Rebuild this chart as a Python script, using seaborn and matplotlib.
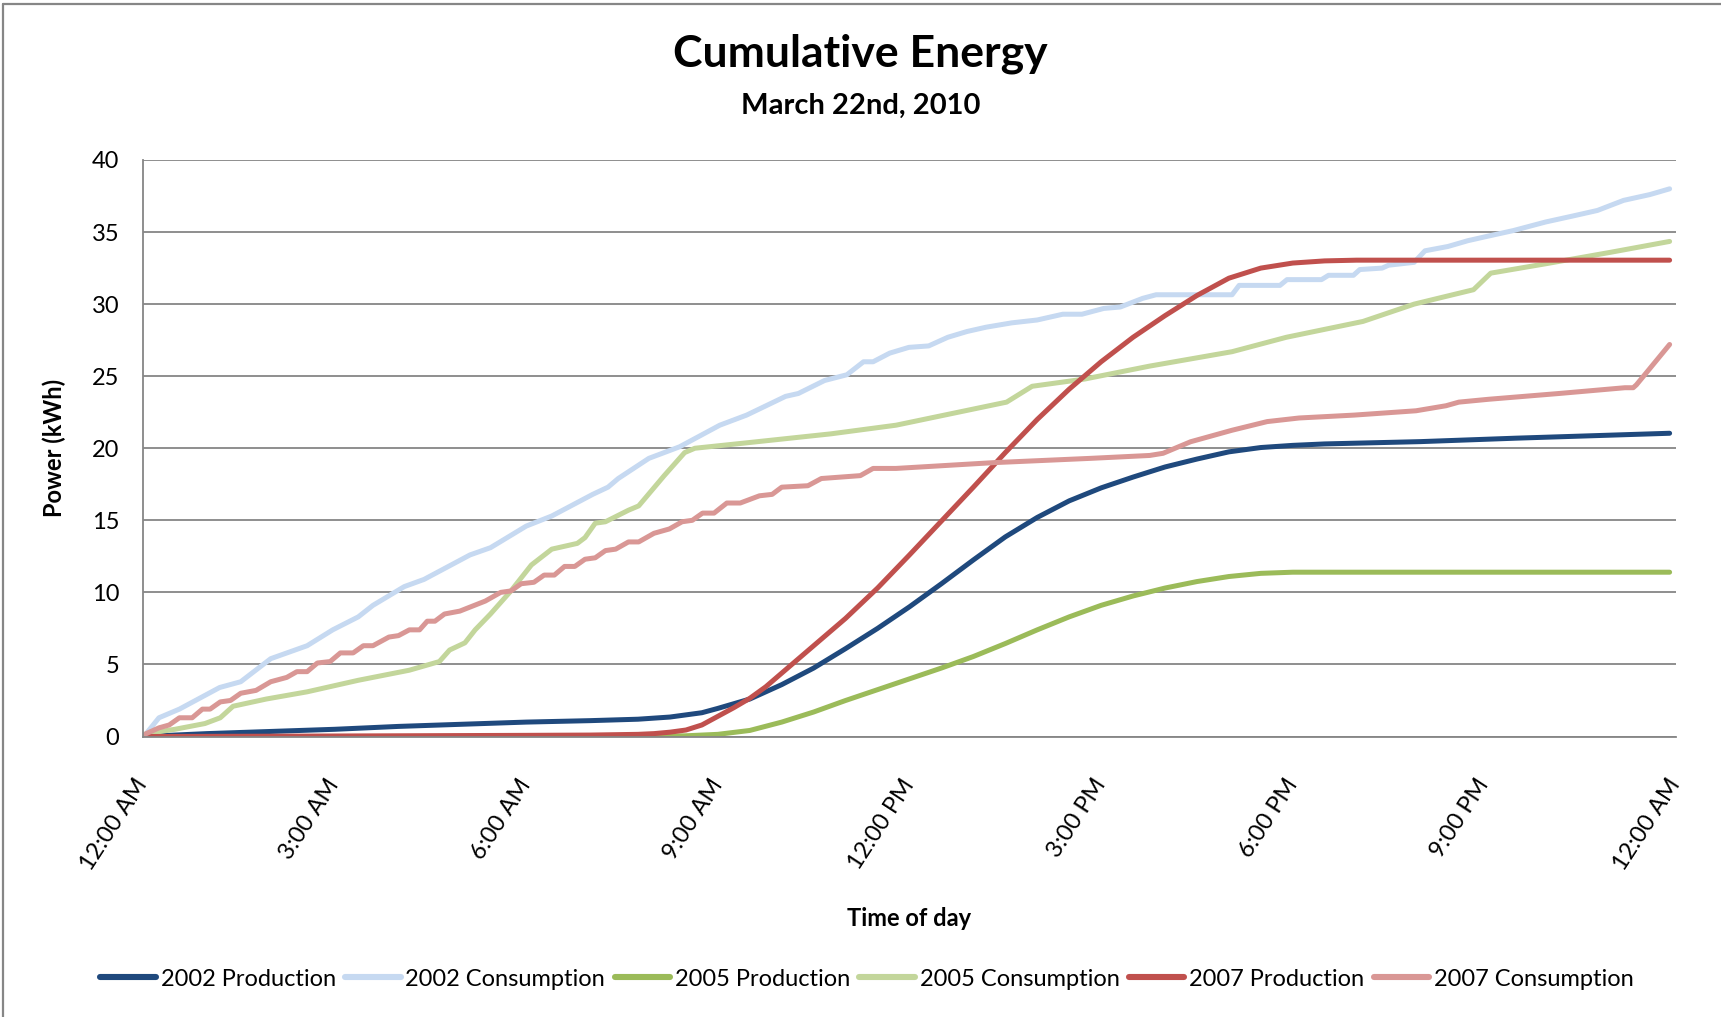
import numpy as np
import pandas as pd
import matplotlib
matplotlib.use("Agg")
import matplotlib.pyplot as plt
from matplotlib.lines import Line2D
import seaborn as sns

# ---- data: cumulative energy (kWh) against hour of day ----
series_names = ["2002 Production", "2002 Consumption", "2005 Production",
                "2005 Consumption", "2007 Production", "2007 Consumption"]
series_colors = ["#1F497D", "#C6D9F1", "#9BBB59", "#C3D69B", "#C0504D", "#D99795"]

prod_2002_h = [0, 1, 2, 3, 4, 5, 6, 7, 7.75, 8.25, 8.75, 9, 9.5, 10, 10.5, 11, 11.5,
               12, 12.5, 13, 13.5, 14, 14.5, 15, 15.5, 16, 16.5, 17, 17.5, 18,
               18.5, 20, 21.5, 23.9]
prod_2002_v = [0, 0.2, 0.35, 0.5, 0.7, 0.85, 1.0, 1.1, 1.2, 1.35, 1.65, 1.95, 2.6,
               3.6, 4.75, 6.1, 7.5, 9.0, 10.6, 12.25, 13.85, 15.2, 16.35, 17.25,
               18.0, 18.7, 19.25, 19.75, 20.05, 20.2, 20.3, 20.46, 20.7, 21.04]

cons_2002_h = [0, 0.05, 0.25, 0.57, 1.2, 1.53, 2.0, 2.57, 2.97, 3.37, 3.6, 4.09, 4.4,
               5.12, 5.44, 6.0, 6.4, 7.04, 7.28, 7.44, 7.92, 8.4, 9.03, 9.45, 10.06,
               10.26, 10.67, 11.02, 11.28, 11.43, 11.69, 11.99, 12.3, 12.6, 12.9,
               13.2, 13.6, 14.0, 14.4, 14.7, 15.04, 15.3, 15.65, 15.86,
               16.47, 17.05, 17.16, 17.8, 17.91, 18.45, 18.56, 18.95, 19.05, 19.4,
               19.5, 19.9, 20.07,
               20.43, 20.74, 21.04, 21.45, 21.96, 22.37, 22.77, 23.18, 23.59, 23.9]
cons_2002_v = [0, 0.2, 1.3, 1.9, 3.4, 3.8, 5.4, 6.3, 7.4, 8.3, 9.1, 10.4, 10.9,
               12.6, 13.1, 14.6, 15.3, 16.8, 17.3, 17.9, 19.3, 20.1, 21.6, 22.3, 23.6,
               23.8, 24.7, 25.1, 26.0, 26.0, 26.6, 27.0, 27.1, 27.7, 28.1,
               28.4, 28.7, 28.9, 29.3, 29.3, 29.7, 29.8, 30.4, 30.65,
               30.65, 30.65, 31.3, 31.3, 31.7, 31.7, 32.0, 32.0, 32.4, 32.5,
               32.7, 32.9, 33.7,
               34.0, 34.4, 34.7, 35.1, 35.7, 36.1, 36.5, 37.2, 37.6, 38.0]

prod_2005_h = [0, 6, 8, 8.5, 9.0, 9.5, 10, 10.5, 11, 11.5, 12, 12.5, 13, 13.5, 14,
               14.5, 15, 15.5, 16, 16.5, 17, 17.5, 18, 20, 22, 23.9]
prod_2005_v = [0, 0, 0.02, 0.05, 0.15, 0.42, 1.0, 1.7, 2.5, 3.25, 4.0, 4.75, 5.55,
               6.45, 7.4, 8.3, 9.1, 9.75, 10.3, 10.75, 11.1, 11.32, 11.4, 11.4,
               11.4, 11.4]

cons_2005_h = [0, 0.05, 0.5, 0.97, 1.21, 1.41, 1.93, 2.57, 3.37, 4.17, 4.64, 4.8,
               5.04, 5.2, 5.44, 5.76, 6.08, 6.4, 6.8, 6.92, 7.08, 7.24, 7.6, 7.76,
               8.16, 8.48, 8.64, 9.5, 10.77, 11.79, 13.52, 13.92, 14.74, 15.76,
               17.05, 17.9, 19.1, 19.9, 20.83, 21.1, 21.96, 22.98, 23.9]
cons_2005_v = [0, 0.2, 0.5, 0.9, 1.3, 2.1, 2.6, 3.1, 3.9, 4.6, 5.2, 6.0, 6.5, 7.4,
               8.5, 10.1, 11.9, 13.0, 13.4, 13.8, 14.8, 14.9, 15.7, 16.0, 18.1,
               19.7, 20.0, 20.4, 21.0, 21.6, 23.2, 24.3, 24.8, 25.7, 26.7, 27.7,
               28.8, 30.0, 31.0, 32.15, 32.8, 33.6, 34.35]

prod_2007_h = [0, 2, 4, 6, 7, 7.75, 8.0, 8.25, 8.5, 8.75, 9.0, 9.25, 9.5, 9.75, 10,
               10.5, 11, 11.5, 12, 12.5, 13, 13.5, 14, 14.5, 15, 15.5, 16, 16.5,
               17, 17.5, 18, 18.5, 19, 20, 22, 23.9]
prod_2007_v = [0, 0.02, 0.05, 0.08, 0.1, 0.15, 0.2, 0.3, 0.45, 0.8, 1.4, 2.0, 2.65,
               3.45, 4.4, 6.3, 8.2, 10.3, 12.6, 14.95, 17.3, 19.7, 22.0, 24.1,
               26.0, 27.7, 29.2, 30.6, 31.8, 32.5, 32.85, 33.0, 33.05, 33.05,
               33.05, 33.05]

cons_2007_h = [0, 0.05, 0.25, 0.41, 0.57, 0.77, 0.93, 1.05, 1.21, 1.37, 1.53, 1.77,
               2.0, 2.25, 2.41, 2.57, 2.73, 2.93, 3.09, 3.29, 3.45, 3.6, 3.85, 4.0,
               4.17, 4.33, 4.45, 4.57, 4.72, 4.96, 5.36, 5.6, 5.76, 5.92, 6.12,
               6.28, 6.44, 6.6, 6.76, 6.92, 7.08, 7.24, 7.4, 7.6, 7.76, 8.0, 8.24,
               8.44, 8.6, 8.76, 8.94, 9.14, 9.35, 9.65, 9.85, 10.0, 10.41, 10.62,
               11.23, 11.43, 11.79, 13.31, 14.84, 15.76, 15.97, 16.4, 17.05, 17.6,
               18.1, 18.96, 19.93, 20.4, 20.6, 21.07, 22.17, 23.2, 23.33, 23.38,
               23.9]
cons_2007_v = [0, 0.2, 0.6, 0.8, 1.3, 1.3, 1.9, 1.9, 2.4, 2.5, 3.0, 3.2, 3.8, 4.1,
               4.5, 4.5, 5.1, 5.2, 5.8, 5.8, 6.3, 6.3, 6.9, 7.0, 7.4, 7.4, 8.0, 8.0,
               8.5, 8.7, 9.4, 10.0, 10.1, 10.6, 10.7, 11.2, 11.2, 11.8, 11.8, 12.3,
               12.4, 12.9, 13.0, 13.5, 13.5, 14.1, 14.4, 14.9, 15.0, 15.5, 15.5,
               16.2, 16.2, 16.7, 16.8, 17.3, 17.4, 17.9, 18.1, 18.6, 18.6, 19.0,
               19.3, 19.5, 19.65, 20.45, 21.25, 21.85, 22.1, 22.3, 22.6, 22.95,
               23.2, 23.4, 23.8, 24.2, 24.2, 24.4, 27.2]

tick_hours = [0, 3, 6, 9, 12, 15, 18, 21, 24]
tick_labels = ["12:00 AM", "3:00 AM", "6:00 AM", "9:00 AM", "12:00 PM",
               "3:00 PM", "6:00 PM", "9:00 PM", "12:00 AM"]

# ---- long-form table ----
pairs = [(prod_2002_h, prod_2002_v), (cons_2002_h, cons_2002_v),
         (prod_2005_h, prod_2005_v), (cons_2005_h, cons_2005_v),
         (prod_2007_h, prod_2007_v), (cons_2007_h, cons_2007_v)]
frames = []
for name, (hh, vv) in zip(series_names, pairs):
    assert len(hh) == len(vv), name
    frames.append(pd.DataFrame({"hour": hh, "kWh": vv, "series": name}))
df = pd.concat(frames, ignore_index=True)

# ---- style ----
sns.set_theme(style="white")
plt.rcParams["font.family"] = ["Lato", "DejaVu Sans"]
for key in ["text.color", "axes.labelcolor", "xtick.labelcolor", "ytick.labelcolor"]:
    plt.rcParams[key] = "black"
GRAY = "#868686"

W, H = 1721, 1017
fig = plt.figure(figsize=(W / 100, H / 100), dpi=100)
ax = fig.add_axes([143 / W, 1 - 736.5 / H, (1676 - 143) / W, (736.5 - 160) / H])

sns.lineplot(data=df, x="hour", y="kWh", hue="series", hue_order=series_names,
             palette=series_colors, estimator=None, sort=True, linewidth=3.6,
             ax=ax)
for ln in ax.lines:
    ln.set_solid_capstyle("round")
    ln.set_solid_joinstyle("round")

ax.set_xlim(0, 24)
ax.set_ylim(0, 40)
ax.set_yticks(range(0, 41, 5))
ax.set_xticks(tick_hours)
ax.set_xticklabels(tick_labels, rotation=57, ha="right", va="center",
                   rotation_mode="anchor")
ax.tick_params(axis="x", direction="out", length=12, width=1.3, color=GRAY,
               pad=20, labelsize=17, labelcolor="black")
ax.tick_params(axis="y", direction="out", length=5, width=1.3, color=GRAY,
               pad=12, labelsize=17, labelcolor="black")
ax.yaxis.grid(True, color=GRAY, linewidth=1.3)
ax.xaxis.grid(False)
ax.set_axisbelow(True)
for side in ["top", "right"]:
    ax.spines[side].set_visible(False)
for side in ["left", "bottom"]:
    ax.spines[side].set_color(GRAY)
    ax.spines[side].set_linewidth(1.3)

ax.set_xlabel("Time of day", fontsize=17, fontweight="bold", labelpad=0)
ax.xaxis.set_label_coords(0.5, -(907 - 736.5) / (736.5 - 160))
ax.set_ylabel("Power (kWh)", fontsize=17, fontweight="bold")
ax.yaxis.set_label_coords(-(143 - 66) / (1676 - 143), 0.5)

# titles
fig.text(0.5, 1 - 54 / H, "Cumulative Energy", ha="center", va="center",
         fontsize=32, fontweight="bold")
fig.text(0.5, 1 - 106 / H, "March 22nd, 2010", ha="center", va="center",
         fontsize=21, fontweight="bold")

# legend
ax.get_legend().remove()
leg_handles = [Line2D([], [], color=c, linewidth=4.4, solid_capstyle="round")
               for c in series_colors]
fig.legend(leg_handles, series_names, loc="center", ncol=6, frameon=False,
           bbox_to_anchor=(867 / W, 1 - 979 / H), fontsize=17,
           handlelength=2.35, handletextpad=0.2, columnspacing=0.4)

# chart frame (left and top edges)
fig.add_artist(Line2D([3.5 / W, 3.5 / W], [0, 1 - 3.5 / H], color=GRAY,
                      linewidth=1.6, transform=fig.transFigure))
fig.add_artist(Line2D([3.5 / W, 1], [1 - 3.5 / H, 1 - 3.5 / H], color=GRAY,
                      linewidth=1.6, transform=fig.transFigure))

fig.savefig("out.png", dpi=100, facecolor="white")
